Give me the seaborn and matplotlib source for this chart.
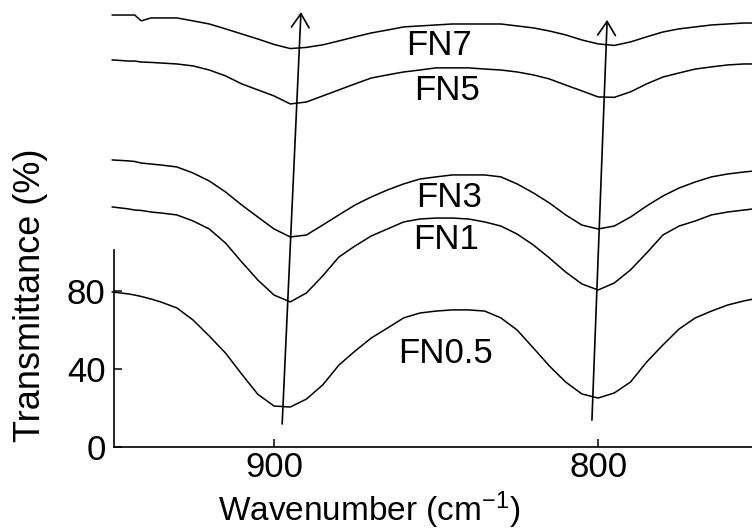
import matplotlib
matplotlib.use("Agg")
import matplotlib.pyplot as plt
from matplotlib import font_manager
import seaborn as sns
import pandas as pd

# Wavenumber grid (cm^-1) shared by all spectra
wavenumber = [950, 945, 943, 941, 938, 935, 930, 925, 920, 915, 910, 905, 900,
              895, 890, 885, 880, 875, 870, 865, 860, 855, 850, 845, 840, 835,
              830, 825, 820, 815, 810, 805, 800, 795, 790, 785, 780, 775, 770,
              765, 760, 755, 752]

# Transmittance traces, stacked with vertical offsets
fn05 = [79.5, 78.5, 77.9, 77.2, 75.9, 74.4, 71.3, 65.1, 56.9, 48.2, 37.4, 27.0, 21.0,
        20.5, 24.6, 31.8, 42.0, 49.2, 55.9, 61.0, 66.2, 68.7, 69.7, 70.3, 70.3, 69.7,
        66.2, 60.0, 50.8, 41.5, 33.3, 27.2, 25.1, 27.7, 33.3, 43.6, 52.3, 60.5, 66.2,
        69.7, 72.8, 74.9, 75.9]
fn1 = [123.1, 122.1, 121.5, 121.3, 120.5, 120.0, 119.0, 115.9, 111.8, 104.6, 94.9, 85.6, 77.9,
       74.4, 79.0, 87.7, 97.4, 103.1, 108.2, 111.8, 115.4, 116.9, 117.4, 117.4, 116.9, 115.4,
       113.3, 109.2, 103.6, 96.9, 89.7, 83.6, 80.5, 84.1, 90.8, 99.5, 108.7, 113.3, 115.9,
       119.0, 120.5, 121.5, 122.1]
fn3 = [147.2, 146.7, 146.4, 145.6, 145.1, 144.6, 143.6, 140.5, 136.4, 130.8, 124.1, 117.9, 111.8,
       107.7, 108.7, 113.8, 119.0, 124.1, 128.2, 131.8, 134.9, 137.4, 138.5, 139.5, 139.5, 139.5,
       138.5, 134.9, 130.3, 125.1, 119.0, 113.8, 111.8, 113.3, 117.9, 123.6, 128.7, 132.8, 135.9,
       138.5, 140.0, 141.0, 141.5]
fn5 = [198.5, 197.9, 197.9, 197.4, 197.2, 196.9, 196.4, 195.4, 193.3, 190.3, 186.2, 183.1, 180.0,
       175.9, 176.9, 180.0, 183.1, 186.2, 189.2, 190.8, 192.3, 193.3, 194.4, 194.4, 194.4, 193.8,
       193.3, 192.3, 190.8, 188.7, 185.6, 182.6, 179.5, 179.3, 182.1, 186.2, 189.7, 191.8, 193.8,
       194.9, 195.9, 196.4, 196.4]
fn7 = [221.5, 221.5, 221.5, 218.5, 220.0, 220.0, 220.0, 218.5, 216.9, 214.4, 211.8, 209.2, 206.4,
       204.3, 204.9, 206.2, 208.2, 210.3, 212.3, 213.8, 215.4, 215.9, 216.4, 216.9, 216.9, 216.9,
       216.9, 215.9, 214.9, 213.3, 211.3, 208.7, 206.7, 205.9, 207.7, 210.3, 212.8, 214.4, 215.4,
       216.4, 216.9, 217.4, 217.4]

series_names = ["FN0.5", "FN1", "FN3", "FN5", "FN7"]
series_values = [fn05, fn1, fn3, fn5, fn7]
# label anchor (wavenumber, transmittance) for each trace
label_pos = [(847.2, 47.7), (846.9, 106.2), (846.0, 127.7), (846.6, 183.0), (849.0, 206.0)]

x_ticks = [900, 800]
y_ticks = [0, 40, 80]

# guide arrows following the band shift (start, end)
arrows = [((897.5, 11.8), (891.7, 223.0)),
          ((801.9, 13.8), (797.2, 219.0))]

sns.set_theme(style="ticks")
names = {f.name for f in font_manager.fontManager.ttflist}
main_font = "Liberation Sans" if "Liberation Sans" in names else "DejaVu Sans"
label_font = "Liberation Sans Narrow" if "Liberation Sans Narrow" in names else main_font
plt.rcParams["font.family"] = [main_font, "DejaVu Sans"]
plt.rcParams["mathtext.default"] = "regular"

fig = plt.figure(figsize=(7.52, 5.32), dpi=100)
ax = fig.add_axes([114 / 752, 85 / 532, 638 / 752, 447 / 532])

frames = []
for name, vals in zip(series_names, series_values):
    frames.append(pd.DataFrame({"wavenumber": wavenumber, "T": vals, "sample": name}))
df = pd.concat(frames, ignore_index=True)

for name in series_names:
    sub = df[df["sample"] == name]
    sns.lineplot(data=sub, x="wavenumber", y="T", ax=ax, color="black",
                 lw=1.1, estimator=None, clip_on=False)

for name, (lx, ly) in zip(series_names, label_pos):
    ax.text(lx, ly, name, ha="center", va="center", fontsize=25,
            family=[label_font, "DejaVu Sans"], color="black")

for (x0, y0), (x1, y1) in arrows:
    ax.annotate("", xy=(x1, y1), xytext=(x0, y0),
                arrowprops=dict(arrowstyle="->,head_length=0.5,head_width=0.32",
                                mutation_scale=20, lw=1.2, color="black",
                                shrinkA=0, shrinkB=0))

ax.set_xlim(949.4, 752.5)
ax.set_ylim(0, 229.2)
ax.set_xticks(x_ticks)
ax.set_yticks(y_ticks)
ax.tick_params(direction="in", length=5.5, width=1.1, labelsize=25, colors="black")
ax.tick_params(axis="x", pad=3)
ax.tick_params(axis="y", pad=6)

for side in ("top", "right"):
    ax.spines[side].set_visible(False)
for side in ("left", "bottom"):
    ax.spines[side].set_linewidth(1.2)
    ax.spines[side].set_color("black")
ax.spines["left"].set_bounds(0, 101)

ax.set_xlabel("Wavenumber (cm$^{-1}$)", fontsize=24, color="black")
ax.set_ylabel("Transmittance (%)", fontsize=26, color="black")
ax.xaxis.set_label_coords(0.40, -0.095)
ax.yaxis.set_label_coords(-0.103, 0.34)

ax.set_facecolor("white")
fig.patch.set_facecolor("white")
fig.savefig("out.png", dpi=100)
